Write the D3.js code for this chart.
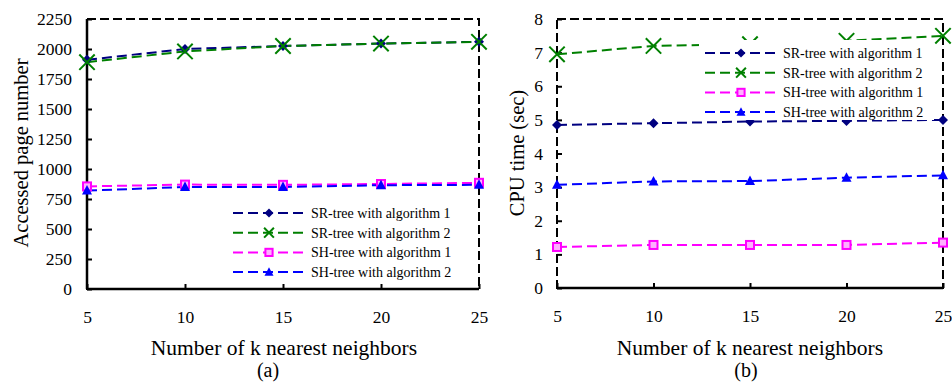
<!DOCTYPE html>
<html><head><meta charset="utf-8">
<script src="https://cdn.jsdelivr.net/npm/d3@7"></script>
<style>
body{margin:0;background:#fff;}
svg{display:block;font-family:"Liberation Serif","Times New Roman",serif;}
</style></head>
<body><svg id="c" width="952" height="382"></svg>
<script>
const kValues = [5, 10, 15, 20, 25];
const seriesNames = ["SR-tree with algorithm 1","SR-tree with algorithm 2","SH-tree with algorithm 1","SH-tree with algorithm 2"];
const seriesColors = ["#000080","#008000","#ff00ff","#0000ff"];
const seriesMarkers = ["diamond","cross","square","triangle"];
// (a) Accessed page number
const pagesSR1 = [1910, 2000, 2025, 2045, 2060];
const pagesSR2 = [1890, 1980, 2025, 2045, 2060];
const pagesSH1 = [855, 870, 868, 875, 885];
const pagesSH2 = [820, 850, 850, 865, 868];
const pagesTicks = [0,250,500,750,1000,1250,1500,1750,2000,2250];
// (b) CPU time (sec)
const cpuSR1 = [4.85, 4.9, 4.95, 4.97, 5.0];
const cpuSR2 = [6.95, 7.2, 7.25, 7.35, 7.5];
const cpuSH1 = [1.22, 1.28, 1.28, 1.28, 1.35];
const cpuSH2 = [3.07, 3.17, 3.18, 3.28, 3.35];
const cpuTicks = [0,1,2,3,4,5,6,7,8];

const svg = d3.select("#c");

function marker(g, type, color, x, y, s){
  if(type==="diamond"){
    g.append("path").attr("d",`M${x},${y-s}L${x+s},${y}L${x},${y+s}L${x-s},${y}Z`).attr("fill",color);
  } else if(type==="cross"){
    const r=s*1.4;
    g.append("path").attr("d",`M${x-r},${y-r}L${x+r},${y+r}M${x-r},${y+r}L${x+r},${y-r}`).attr("stroke",color).attr("stroke-width",2).attr("fill","none");
  } else if(type==="square"){
    g.append("rect").attr("x",x-s*0.8).attr("y",y-s*0.8).attr("width",s*1.6).attr("height",s*1.6).attr("fill","#ffb0ff").attr("stroke",color).attr("stroke-width",2);
  } else if(type==="triangle"){
    g.append("path").attr("d",`M${x},${y-s*1.1}L${x+s},${y+s*0.8}L${x-s},${y+s*0.8}Z`).attr("fill",color);
  }
}

function chart(o){
  const g = svg.append("g");
  const x = d3.scaleLinear().domain([5,25]).range([o.x0,o.x1]);
  const y = d3.scaleLinear().domain([0,o.ymax]).range([o.y0,o.y1]);
  const ax = g.append("g").attr("transform",`translate(${o.x0},0)`)
    .call(d3.axisLeft(y).tickValues(o.ticks).tickFormat(d3.format("d")).tickSize(-5).tickPadding(o.ypad));
  ax.select(".domain").remove();
  ax.selectAll("line").attr("stroke","#000").attr("stroke-width",2);
  ax.selectAll("text").attr("font-size",17.5).attr("font-family","Liberation Serif").attr("fill","#000");
  const bx = g.append("g").attr("transform",`translate(0,${o.y0})`)
    .call(d3.axisBottom(x).tickValues(kValues).tickFormat(d3.format("d")).tickSize(-5).tickPadding(22));
  bx.select(".domain").remove();
  bx.selectAll("line").attr("stroke","#000").attr("stroke-width",2);
  bx.selectAll("text").attr("font-size",17.5).attr("font-family","Liberation Serif").attr("fill","#000");
  g.append("rect").attr("x",o.x0).attr("y",o.y1).attr("width",o.x1-o.x0).attr("height",o.y0-o.y1)
    .attr("fill","none").attr("stroke","#000").attr("stroke-width",2).attr("stroke-dasharray","9,4");
  g.append("line").attr("x1",o.x0).attr("x2",o.x1).attr("y1",o.y0).attr("y2",o.y0).attr("stroke","#000").attr("stroke-width",2.5);
  if(o.solidLeft) g.append("line").attr("x1",o.x0).attr("x2",o.x0).attr("y1",o.y0).attr("y2",o.y1).attr("stroke","#000").attr("stroke-width",2.5);
  const line = d3.line().x((d,i)=>x(kValues[i])).y(d=>y(d));
  o.series.forEach((s,si)=>{
    g.append("path").attr("d",line(s)).attr("fill","none").attr("stroke",seriesColors[si])
      .attr("stroke-width",2).attr("stroke-dasharray","10,5");
  });
  o.series.forEach((s,si)=>{
    s.forEach((v,i)=>marker(g,seriesMarkers[si],seriesColors[si],x(kValues[i]),y(v),si===1?5.5:5));
  });
  const lg = g.append("g");
  lg.append("rect").attr("x",o.lx-6).attr("y",o.ly-13).attr("width",o.lw).attr("height",80).attr("fill","#fff");
  seriesNames.forEach((n,i)=>{
    const yy=o.ly+i*19.7;
    lg.append("line").attr("x1",o.lx).attr("x2",o.lx+74).attr("y1",yy).attr("y2",yy)
      .attr("stroke",seriesColors[i]).attr("stroke-width",2).attr("stroke-dasharray","10,5");
    marker(lg,seriesMarkers[i],seriesColors[i],o.lx+36,yy,i===1?3.5:4.5);
    lg.append("text").attr("x",o.lx+78).attr("y",yy).attr("dy","0.35em").attr("font-size",14).text(n);
  });
  g.append("text").attr("x",o.tx).attr("y",355).attr("text-anchor","middle").attr("font-size",21.5).text("Number of k nearest neighbors");
  g.append("text").attr("x",o.capx).attr("y",377).attr("text-anchor","middle").attr("font-size",20).text(o.cap);
  g.append("text").attr("transform",`translate(${o.ytx},${o.yty}) rotate(-90)`).attr("text-anchor","middle").attr("font-size",20.5).text(o.ytitle);
}

chart({x0:87,x1:479,y0:289,y1:19,ymax:2250,ticks:pagesTicks,ypad:15,solidLeft:true,
  series:[pagesSR1,pagesSR2,pagesSH1,pagesSH2],lx:233,ly:213,lw:230,tx:284,
  capx:268,cap:"(a)",ytx:28,yty:153,ytitle:"Accessed page number"});
chart({x0:557,x1:943,y0:288,y1:19,ymax:8,ticks:cpuTicks,ypad:14,solidLeft:false,
  series:[cpuSR1,cpuSR2,cpuSH1,cpuSH2],lx:705,ly:53,lw:235,tx:750,
  capx:746,cap:"(b)",ytx:524,yty:153,ytitle:"CPU time (sec)"});
</script></body></html>
